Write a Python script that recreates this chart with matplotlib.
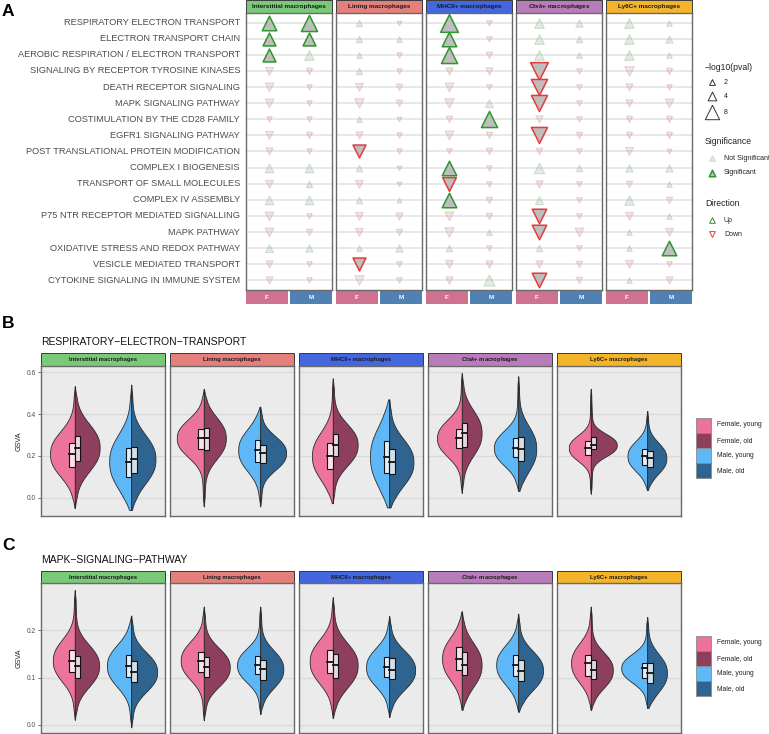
import numpy as np
import matplotlib
matplotlib.use('Agg')
import matplotlib.pyplot as plt
from matplotlib.patches import Rectangle
from matplotlib.colors import to_rgba

plt.rcParams['font.family'] = ['Liberation Sans', 'DejaVu Sans']
plt.rcParams['mathtext.fontset'] = 'custom'
plt.rcParams['mathtext.it'] = 'Liberation Sans:italic:bold'
plt.rcParams['mathtext.rm'] = 'Liberation Sans:bold'

# ---- data: panel A (signed -log10 pval, + = up, - = down) ----
pathways = ['RESPIRATORY ELECTRON TRANSPORT', 'ELECTRON TRANSPORT CHAIN',
            'AEROBIC RESPIRATION / ELECTRON TRANSPORT', 'SIGNALING BY RECEPTOR TYROSINE KINASES',
            'DEATH RECEPTOR SIGNALING', 'MAPK SIGNALING PATHWAY', 'COSTIMULATION BY THE CD28 FAMILY',
            'EGFR1 SIGNALING PATHWAY', 'POST TRANSLATIONAL PROTEIN MODIFICATION', 'COMPLEX I BIOGENESIS',
            'TRANSPORT OF SMALL MOLECULES', 'COMPLEX IV ASSEMBLY', 'P75 NTR RECEPTOR MEDIATED SIGNALLING',
            'MAPK PATHWAY', 'OXIDATIVE STRESS AND REDOX PATHWAY', 'VESICLE MEDIATED TRANSPORT',
            'CYTOKINE SIGNALING IN IMMUNE SYSTEM']
cell_types = ['Interstitial macrophages', 'Lining macrophages', 'MHCII+ macrophages',
              r'$\it{Ctsk}$+ macrophages', 'Ly6C+ macrophages']
sexes = ['F', 'M']

im_F = [7, 6, 6, -3, -3.5, -3.5, -1.5, -3, -2.5, 3.5, -3, 3.5, -3.5, -3.5, 3, -2.5, -2.5]
im_M = [8, 6, 4, -2, -1.5, -1.5, -1.5, -2, -1.5, 3.5, 2, 3.5, -1.5, -2, 2.5, -1.5, -1.5]
lin_F = [2, 2, 1.5, 2, -3, -4, 1.5, -2.5, -6, 2, -3, 2, -3, -3, 1.5, -6, -4]
lin_M = [-1, 1.5, -1.5, -1.5, -2, -2, -1, -1.5, -1.5, -1, -1, 1, -2.5, -2, 2.5, -1.5, -1.5]
mhc_F = [9, 7, 8, -2.5, -3.5, -4, -2, -3.5, -1.5, 7, -6.5, 7, -3.5, -4, 2, -3, -2.5]
mhc_M = [-1.5, -1.5, -2, -2.5, -1.5, 3, 8, -2, -2, -1.5, -1.5, -2, -2, 1.5, -1.5, -2.5, 5]
ctsk_F = [4, 4, 4, -9, -8, -8, -2.5, -8, -2, 4.5, -2.5, 3, -7, -7, 2, -2.5, -7]
ctsk_M = [2.5, 2, 1.5, -1.5, -1.5, -1.5, -1.5, -2, -1.5, 2, -1.5, -1.5, -1.5, -3.5, -1.5, -2, -2]
ly_F = [4, 4, 4, -4, -2.5, -2.5, -2, -2, -3, 2.5, -2, 4, -3, 1.5, 1.5, -3, 1.5]
ly_M = [1.5, 2.5, 1.5, -2, -1.5, -3.5, -2, -2, -1, 2.5, 1.5, -2, 1.5, -3, 7, -1.5, -2.5]
dot_values = [(im_F, im_M), (lin_F, lin_M), (mhc_F, mhc_M), (ctsk_F, ctsk_M), (ly_F, ly_M)]

# significant points: (cell type index, sex, row)
significant = [(0, 'F', 0), (0, 'F', 1), (0, 'F', 2), (0, 'M', 0), (0, 'M', 1),
               (1, 'F', 8), (1, 'F', 15),
               (2, 'F', 0), (2, 'F', 1), (2, 'F', 2), (2, 'F', 9), (2, 'F', 10), (2, 'F', 11), (2, 'M', 6),
               (3, 'F', 3), (3, 'F', 4), (3, 'F', 5), (3, 'F', 7), (3, 'F', 12), (3, 'F', 13), (3, 'F', 16),
               (4, 'M', 14)]

# ---- data: panels B and C (GSVA summaries; order Female young, Female old, Male young, Male old) ----
groups = ['Female, young', 'Female, old', 'Male, young', 'Male, old']

b_med = [[0.21, 0.24, 0.173, 0.185], [0.285, 0.285, 0.228, 0.214], [0.2, 0.253, 0.197, 0.17],
         [0.285, 0.31, 0.238, 0.235], [0.238, 0.252, 0.2, 0.19]]
b_q1 = [[0.148, 0.176, 0.10, 0.12], [0.235, 0.23, 0.17, 0.167], [0.14, 0.2, 0.12, 0.115],
        [0.237, 0.243, 0.197, 0.176], [0.205, 0.233, 0.157, 0.147]]
b_q3 = [[0.262, 0.295, 0.238, 0.243], [0.33, 0.335, 0.276, 0.252], [0.26, 0.305, 0.27, 0.233],
        [0.33, 0.357, 0.285, 0.29], [0.27, 0.29, 0.233, 0.225]]
b_min = [[-0.048, -0.048, -0.057, -0.057], [-0.04, -0.04, -0.04, -0.04], [-0.025, -0.025, -0.045, -0.045],
         [0.024, 0.024, 0.034, 0.034], [0.02, 0.02, 0.038, 0.038]]
b_max = [[0.533, 0.533, 0.54, 0.54], [0.52, 0.52, 0.435, 0.435], [0.57, 0.57, 0.47, 0.47],
         [0.595, 0.595, 0.58, 0.58], [0.52, 0.52, 0.415, 0.415]]
b_width = [[0.44, 0.44, 0.39, 0.43], [0.48, 0.39, 0.39, 0.46], [0.37, 0.44, 0.34, 0.43],
           [0.44, 0.35, 0.43, 0.32], [0.39, 0.46, 0.35, 0.34]]

c_med = [[0.136, 0.125, 0.125, 0.112], [0.136, 0.122, 0.126, 0.118], [0.134, 0.126, 0.122, 0.116],
         [0.14, 0.127, 0.127, 0.115], [0.131, 0.116, 0.12, 0.11]]
c_q1 = [[0.112, 0.099, 0.101, 0.091], [0.112, 0.101, 0.107, 0.095], [0.11, 0.10, 0.101, 0.097],
        [0.117, 0.106, 0.104, 0.093], [0.104, 0.097, 0.099, 0.089]]
c_q3 = [[0.159, 0.146, 0.148, 0.135], [0.155, 0.144, 0.145, 0.137], [0.159, 0.15, 0.144, 0.141],
        [0.165, 0.155, 0.148, 0.137], [0.148, 0.137, 0.131, 0.131]]
c_min = [[0.011, 0.011, -0.005, -0.005], [0.01, 0.01, 0.023, 0.023], [0.015, 0.015, 0.017, 0.017],
         [0.032, 0.032, 0.028, 0.028], [0.032, 0.032, 0.036, 0.036]]
c_max = [[0.285, 0.285, 0.231, 0.231], [0.25, 0.25, 0.25, 0.25], [0.27, 0.27, 0.23, 0.23],
         [0.24, 0.24, 0.235, 0.235], [0.25, 0.25, 0.228, 0.228]]
c_width = [[0.39, 0.43, 0.43, 0.46], [0.41, 0.46, 0.41, 0.41], [0.41, 0.44, 0.41, 0.46],
           [0.35, 0.35, 0.39, 0.44], [0.35, 0.39, 0.46, 0.35]]

# ---- styles ----
strip_colors = ['#79C979', '#E57F7B', '#4467E0', '#B97CBA', '#F4B42A']
sex_colors = {'F': '#CF7290', 'M': '#5180B3'}
group_colors = ['#EC7399', '#8D3F5D', '#5EB8F8', '#2F6490']
up_col, down_col = '#2E972E', '#E33A3E'
txt_col = '#4D4D4D'
faint_fill = to_rgba('#BEBEBE', 0.35)

W, H = 769, 734
fig = plt.figure(figsize=(W / 100, H / 100), dpi=100)
ov = fig.add_axes([0, 0, 1, 1])
ov.set_xlim(0, W)
ov.set_ylim(H, 0)
ov.axis('off')


def px_axes(x0, y0, x1, y1):
    return fig.add_axes([x0 / W, 1 - y1 / H, (x1 - x0) / W, (y1 - y0) / H])


def msize(v):
    return (2.4 + 1.15 * abs(v)) ** 2


def strip(x0, y0, x1, y1, color, label, fs):
    ov.add_patch(Rectangle((x0, y0), x1 - x0, y1 - y0, facecolor=color, edgecolor='#3A3A3A', lw=0.7))
    ov.text((x0 + x1) / 2, (y0 + y1) / 2 + 0.3, label, ha='center', va='center', fontsize=fs,
            fontweight='bold', color='#1A1A1A')


# ================= Panel A =================
ov.text(2, 11, 'A', fontsize=12.5, fontweight='bold', va='center')
a_x0 = [246, 336, 426, 516, 606]
sig_set = set(significant)
for i, x0 in enumerate(a_x0):
    ax = px_axes(x0, 13, x0 + 86, 290)
    ax.set_xlim(0.4, 2.6)
    ax.set_ylim(16.6, -0.6)
    for r in range(len(pathways)):
        ax.axhline(r, color='#E2E2E2', lw=1.1, zorder=0)
    for j, sx in enumerate(sexes):
        vals = dot_values[i][j]
        for r, v in enumerate(vals):
            is_sig = (i, sx, r) in sig_set
            mk = '^' if v > 0 else 'v'
            ec = up_col if v > 0 else down_col
            if is_sig:
                ax.scatter(j + 1, r, s=msize(v), marker=mk, facecolor='#BEBEBE', edgecolor=ec,
                           lw=1.1, zorder=4)
            else:
                ax.scatter(j + 1, r, s=msize(v), marker=mk, facecolor=faint_fill,
                           edgecolor=to_rgba(ec, 0.2), lw=0.8, zorder=3)
    ax.set_xticks([])
    ax.set_yticks([])
    for sp in ax.spines.values():
        sp.set_color('#6A6A6A')
        sp.set_linewidth(1.0)
    strip(x0, 0, x0 + 86, 13, strip_colors[i], cell_types[i], 4.6)
    for j, sx in enumerate(sexes):
        bx = x0 + j * 44
        ov.add_patch(Rectangle((bx, 290.5), 42, 13, facecolor=sex_colors[sx], edgecolor='none'))
        ov.text(bx + 21, 297.5, sx, ha='center', va='center', fontsize=4.6, fontweight='bold', color='white')
    if i == 0:
        for r, name in enumerate(pathways):
            ov.text(240, 13 + (r + 0.6) * 277 / 17.2, name, ha='right', va='center', fontsize=6.7, color=txt_col)

# legend A
ov.text(705, 67, '\u2212log10(pval)', fontsize=6.2, va='center', color='#222222')
for yy, v in zip([82, 96, 112], [2, 4, 8]):
    ov.scatter(712, yy, s=msize(v) * 0.8, marker='^', facecolor='white', edgecolor='#333333', lw=0.7)
    ov.text(724, yy, str(v), fontsize=5, va='center', color='#222222')
ov.text(705, 142, 'Significance', fontsize=6.2, va='center', color='#222222')
ov.scatter(712, 158, s=msize(1.5), marker='^', facecolor=faint_fill, edgecolor=to_rgba(up_col, 0.2), lw=0.8)
ov.text(724, 158, 'Not Significant', fontsize=5, va='center', color='#222222')
ov.scatter(712, 173, s=msize(2), marker='^', facecolor='#BEBEBE', edgecolor=up_col, lw=1.1)
ov.text(724, 173, 'Significant', fontsize=5, va='center', color='#222222')
ov.text(705, 203, 'Direction', fontsize=6.2, va='center', color='#222222')
ov.scatter(712, 220, s=msize(1.5), marker='^', facecolor='white', edgecolor=up_col, lw=0.7)
ov.text(724, 220, 'Up', fontsize=5, va='center', color='#222222')
ov.scatter(712, 234, s=msize(1.5), marker='v', facecolor='white', edgecolor=down_col, lw=0.7)
ov.text(724, 234, 'Down', fontsize=5, va='center', color='#222222')


# ================= Panels B / C =================
def half_violin(ax, xc, side, med, q1, q3, lo, hi, w, color):
    # outline shaped from the quartiles, trimmed at the observed range
    s = (q3 - q1) / 1.35
    y = np.linspace(lo, hi, 300)
    z = (y - med) / s
    core = np.exp(-0.5 * np.abs(z / 1.2) ** 2.4)
    taper = np.clip(np.minimum(y - lo, hi - y) / (0.6 * s), 0, 1)
    tail = 0.07 * np.exp(-0.5 * (z / 3.5) ** 2) * taper
    prof = core + tail
    prof = prof / prof.max() * w
    if side < 0:
        ax.fill_betweenx(y, xc - prof, xc, facecolor=color, edgecolor='#2B2B2B', lw=0.6, zorder=2)
    else:
        ax.fill_betweenx(y, xc, xc + prof, facecolor=color, edgecolor='#2B2B2B', lw=0.6, zorder=2)
    bx = xc - 0.1 if side < 0 else xc
    ax.add_patch(Rectangle((bx, q1), 0.1, q3 - q1, facecolor='white', alpha=0.8, edgecolor='none', zorder=3))
    ax.add_patch(Rectangle((bx, q1), 0.1, q3 - q1, facecolor='none', edgecolor='#111111', lw=0.8, zorder=4))
    ax.plot([bx, bx + 0.1], [med, med], color='#111111', lw=1.3, zorder=5)


def violin_panel(label, label_y, title, title_y, strip_y, ax_y0, ax_y1, ylim, yticks,
                 med, q1, q3, vmin, vmax, width, leg_y):
    ov.text(2, label_y, label, fontsize=12.5, fontweight='bold', va='center')
    ov.text(41, title_y, title, fontsize=7.5, va='center', color='#111111')
    x0s = [41, 170, 299, 428, 557]
    for i, x0 in enumerate(x0s):
        ax = px_axes(x0, ax_y0, x0 + 124, ax_y1)
        ax.set_facecolor('#EBEBEB')
        ax.set_xlim(0.4, 2.6)
        ax.set_ylim(*ylim)
        ax.set_yticks(yticks)
        ax.set_xticks([])
        ax.grid(axis='y', color='#D9D9D9', lw=0.9)
        ax.set_axisbelow(True)
        for sp in ax.spines.values():
            sp.set_color('#6A6A6A')
            sp.set_linewidth(1.0)
        if i == 0:
            ax.tick_params(axis='y', labelsize=4.8, labelcolor=txt_col, length=2, width=0.5,
                           color='#333333', pad=1.5)
            ax.set_yticklabels([f'{t:.1f}' for t in yticks])
            ax.set_ylabel('GSVA', fontsize=5.2, color='#222222', labelpad=3)
        else:
            ax.tick_params(axis='y', length=0, labelleft=False)
        for g in range(4):
            xc = 1 if g < 2 else 2
            side = -1 if g % 2 == 0 else 1
            half_violin(ax, xc, side, med[i][g], q1[i][g], q3[i][g], vmin[i][g], vmax[i][g],
                        width[i][g], group_colors[g])
        strip(x0, strip_y, x0 + 124, ax_y0, strip_colors[i], cell_types[i], 4.2)
    for g, name in enumerate(groups):
        yy = leg_y + g * 15.3
        ov.add_patch(Rectangle((696, yy - 7.5), 15, 15, facecolor=group_colors[g], edgecolor='#8A8A8A', lw=0.6))
        ov.text(717, yy, name, fontsize=4.9, va='center', color='#222222')


violin_panel('B', 323, 'RESPIRATORY\u2212ELECTRON\u2212TRANSPORT', 342, 353, 366, 516,
             (-0.086, 0.629), [0.0, 0.2, 0.4, 0.6],
             b_med, b_q1, b_q3, b_min, b_max, b_width, 425)
violin_panel('C', 546, 'MAPK\u2212SIGNALING\u2212PATHWAY', 560, 571, 583, 733,
             (-0.017, 0.300), [0.0, 0.1, 0.2],
             c_med, c_q1, c_q3, c_min, c_max, c_width, 643)

fig.savefig('out.png', dpi=100)
